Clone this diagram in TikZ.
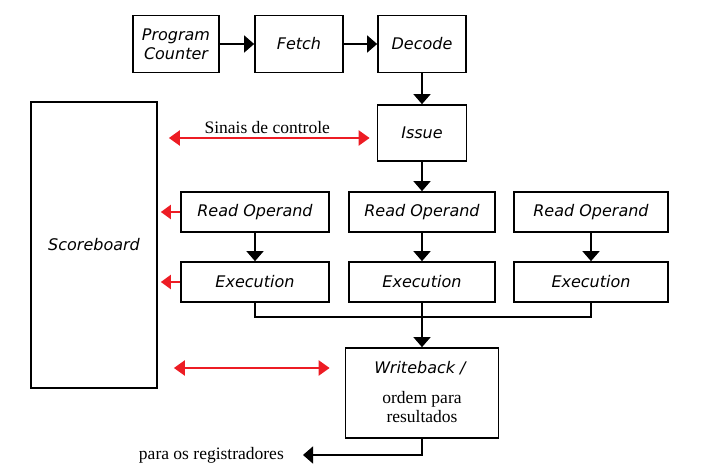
\documentclass[tikz,border=0pt]{standalone}
\usepackage{fontspec}
\setmainfont{Liberation Serif}
\setsansfont{DejaVu Sans}
\usetikzlibrary{positioning, arrows.meta}
\definecolor{SignalRed}{RGB}{237, 28, 36}

\begin{document}
\begin{tikzpicture}[x=1pt, y=-1pt,
    stage/.style={draw, line width=1.7pt, font=\fontsize{16}{19}\sffamily\itshape, align=center, inner sep=0pt},
    flow/.style={line width=1.5pt, -{Triangle[length=10pt, width=17pt]}},
    sig/.style={SignalRed, line width=2pt, -{Triangle[length=10pt, width=14pt]}},
    sigboth/.style={SignalRed, line width=2.2pt, {Triangle[length=11pt, width=15pt]}-{Triangle[length=11pt, width=15pt]}},
    note/.style={text=black, font=\fontsize{17.5}{19}\selectfont, align=center, inner sep=1pt}]
  \useasboundingbox (0,0) rectangle (702,473);

  % Instruction fetch
  \node[stage, minimum width=86pt, minimum height=57pt] (pc) at (176,44) {Program\\Counter};
  \node[stage, minimum width=88pt, minimum height=57pt] (fetch) at (299,44) {Fetch};
  \node[stage, minimum width=88pt, minimum height=57pt] (decode) at (422,44) {Decode};
  \node[stage, minimum width=89pt, minimum height=56pt] (issue) at (422,133) {Issue};

  % Scoreboard
  \node[stage, minimum width=126pt, minimum height=286pt] (score) at (94,245) {Scoreboard};

  % Read operands and execution units
  \node[stage, minimum width=148pt, minimum height=40pt] (ro1) at (255,212) {Read Operand};
  \node[stage, minimum width=146pt, minimum height=40pt] (ro2) at (422,212) {Read Operand};
  \node[stage, minimum width=154pt, minimum height=40pt] (ro3) at (591,212) {Read Operand};
  \node[stage, minimum width=148pt, minimum height=40pt] (ex1) at (255,282) {Execution};
  \node[stage, minimum width=146pt, minimum height=40pt] (ex2) at (422,282) {Execution};
  \node[stage, minimum width=154pt, minimum height=40pt] (ex3) at (591,282) {Execution};

  % Writeback
  \node[stage, minimum width=153pt, minimum height=90pt] (wb) at (422,393) {};
  \node[font=\fontsize{16}{19}\sffamily\itshape] (wbtitle) at (420,368) {Writeback /};
  \node[note] (wbnote) at (422,407) {ordem para\\resultados};

  % Black flow
  \draw[flow] (pc) -- (fetch);
  \draw[flow] (fetch) -- (decode);
  \draw[flow] (decode) -- (issue);
  \draw[flow] (issue) -- (ro2);
  \draw[flow] (ro1) -- (ex1);
  \draw[flow] (ro2) -- (ex2);
  \draw[flow] (ro3) -- (ex3);
  \coordinate (merge) at (422,317);
  \draw[line width=1.5pt] (ex1.south) |- (merge) -| (ex3.south);
  \draw[flow] (ex2) -- (wb);
  \coordinate (regend) at (303,455);
  \draw[flow] (wb.south) |- (regend);
  \node[note, left=18pt of regend] (regs) {para os registradores};

  % Control signals
  \coordinate (sigrow) at (0,138);
  \draw[sigboth, shorten <=11pt, shorten >=7pt] (score.east |- sigrow) -- (issue.west |- sigrow)
    node[note, midway, above=2pt] (sinais) {Sinais de controle};
  \draw[sig, shorten >=3pt] (ro1.west) -- (score.east |- ro1.west);
  \draw[sig, shorten >=3pt] (ex1.west) -- (score.east |- ex1.west);
  \draw[sigboth, shorten <=16pt, shorten >=15pt] (score.east |- wbtitle) -- (wb.west |- wbtitle);
\end{tikzpicture}
\end{document}
